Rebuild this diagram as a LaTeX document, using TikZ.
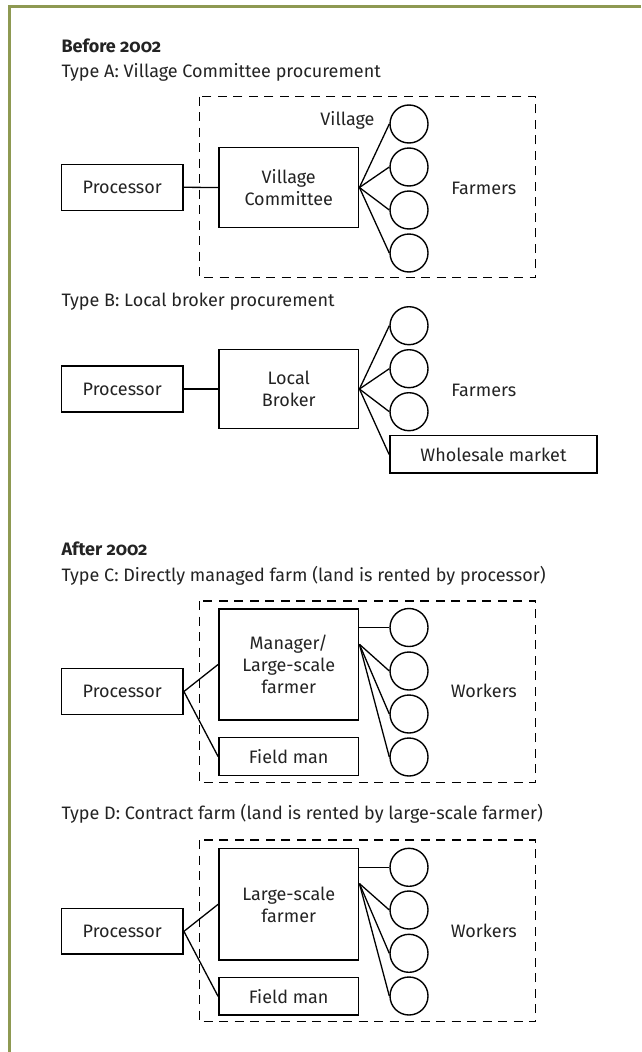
\documentclass[tikz,border=0pt]{standalone}
\usepackage{fontspec}
\setmainfont{Fira Sans}[Numbers=OldStyle]
\definecolor{frameolive}{RGB}{142,153,82}
\definecolor{inkgray}{RGB}{35,35,35}
\tikzset{
  box/.style={draw=black, line width=1.45pt, align=center, inner sep=0pt, text depth=0pt, text=inkgray, font=\fontsize{18}{22}\selectfont},
  worker/.style={draw, circle, line width=1.4pt, minimum size=38pt, inner sep=0pt},
  link/.style={line width=1.3pt},
  dashedbox/.style={draw, line width=1.35pt, dash pattern=on 9pt off 6.5pt},
  lbl/.style={inner sep=0pt, anchor=base, text=inkgray, font=\fontsize{18}{22}\selectfont},
  head/.style={inner sep=0pt, anchor=base west, text=inkgray, font=\fontsize{18}{22}\selectfont},
}
\begin{document}
\begin{tikzpicture}[x=1pt,y=-1pt]
\useasboundingbox (0,0) rectangle (641,1052);
\draw[frameolive, line width=2.7pt] (9.5,1052) -- (9.5,6.7) -- (641,6.7);

% headings
\node[head] (before) at (61.3,52.3) {\bfseries Before 2002};
\node[head] (typeA) at (61.3,77.7) {Type A: Village Committee procurement};
\node[head] (typeB) at (61.3,306.7) {Type B: Local broker procurement};
\node[head] (after) at (61.3,555.7) {\bfseries After 2002};
\node[head] (typeC) at (61.3,581.7) {Type C: Directly managed farm (land is rented by processor)};
\node[head] (typeD) at (61.3,819.3) {Type D: Contract farm (land is rented by large-scale farmer)};

% ---------- Type A ----------
\draw[dashedbox] (199.2,96.7) rectangle (535.8,277.7);
\node[lbl] (village) at (347.5,125) {Village};
\node[box, minimum width=121.9pt, minimum height=46pt] (procA) at (122.25,187.3) {Processor};
\node[box, minimum width=139.9pt, minimum height=79.6pt] (vc) at (288.75,187.5) {Village\\Committee};
\node[worker] (a1) at (409,124) {};
\node[worker] (a2) at (409,167) {};
\node[worker] (a3) at (409,210) {};
\node[worker] (a4) at (409,253) {};
\node[lbl] (farmersA) at (483.8,194.3) {Farmers};
\draw[link] (procA.east) -- (vc.west);
\foreach \c in {a1,a2,a3,a4} \draw[link] (vc.east) -- (\c.west);

% ---------- Type B ----------
\node[box, minimum width=121.9pt, minimum height=46pt] (procB) at (122.25,389) {Processor};
\node[box, minimum width=139.9pt, minimum height=79.4pt] (lb) at (288.75,389) {Local\\Broker};
\node[worker] (b1) at (409,325.7) {};
\node[worker] (b2) at (409,368.7) {};
\node[worker] (b3) at (409,411.7) {};
\node[box, minimum width=207.3pt, minimum height=37.3pt] (wm) at (493.45,454.35) {Wholesale market};
\node[lbl] (farmersB) at (483.8,396) {Farmers};
\draw[link] (procB.east) -- (lb.west);
\foreach \c in {b1,b2,b3,wm} \draw[link] (lb.east) -- (\c.west);

% ---------- Type C ----------
\draw[dashedbox] (199.2,601) rectangle (535.8,782.3);
\node[box, minimum width=121.9pt, minimum height=45.6pt] (procC) at (122.25,691.5) {Processor};
\node[box, minimum width=139.9pt, minimum height=111pt] (mgr) at (288.75,664.5) {Manager/\\Large-scale\\farmer};
\node[box, minimum width=139.9pt, minimum height=37.6pt] (fmC) at (288.75,756.5) {Field man};
\node[worker] (c1) at (409,627.5) {};
\node[worker] (c2) at (409,671) {};
\node[worker] (c3) at (409,714) {};
\node[worker] (c4) at (409,757) {};
\node[lbl] (workersC) at (483.8,697.7) {Workers};
\coordinate (mgrOut) at ([yshift=-36pt]mgr.north east);
\draw[link] (procC.east) -- (mgr.west);
\draw[link] (procC.east) -- (fmC.west);
\draw[link] (c1.west) -- (c1.west -| mgr.east);
\foreach \c in {c2,c3,c4} \draw[link] (mgrOut) -- (\c.west);

% ---------- Type D ----------
\draw[dashedbox] (199.2,840) rectangle (535.8,1021.7);
\node[box, minimum width=121.9pt, minimum height=45.3pt] (procD) at (122.25,931.35) {Processor};
\node[box, minimum width=139.9pt, minimum height=111.3pt] (lsf) at (288.75,904.35) {Large-scale\\farmer};
\node[box, minimum width=139.9pt, minimum height=37.3pt] (fmD) at (288.75,996.35) {Field man};
\node[worker] (d1) at (409,867.3) {};
\node[worker] (d2) at (409,910) {};
\node[worker] (d3) at (409,953.3) {};
\node[worker] (d4) at (409,996) {};
\node[lbl] (workersD) at (483.8,937.7) {Workers};
\coordinate (lsfOut) at ([yshift=-35.6pt]lsf.north east);
\draw[link] (procD.east) -- (lsf.west);
\draw[link] (procD.east) -- (fmD.west);
\draw[link] (d1.west) -- (d1.west -| lsf.east);
\foreach \c in {d2,d3,d4} \draw[link] (lsfOut) -- (\c.west);
\end{tikzpicture}
\end{document}
